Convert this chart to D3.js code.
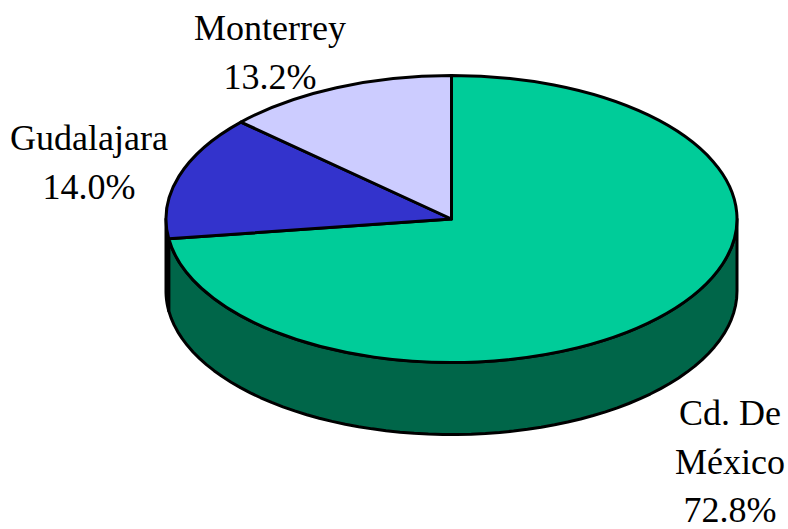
<!DOCTYPE html>
<html><head><meta charset="utf-8">
<script src="https://cdn.jsdelivr.net/npm/d3@7"></script>
<style>html,body{margin:0;padding:0;background:#fff}svg{display:block}text{font-family:"Liberation Serif",serif;font-size:36px;fill:#000;text-anchor:middle}</style>
</head><body><script>
const categories = ["Cd. De México", "Gudalajara", "Monterrey"];
const values = [72.8, 14.0, 13.2];
const topColors = ["#00CC99", "#3333CC", "#CCCCFF"];
const sideColors = ["#006649", "#1A1A66", "#66667F"];
const labelLines = [["Cd. De", "México", "72.8%"], ["Gudalajara", "14.0%"], ["Monterrey", "13.2%"]];
const labelPos = [[730, 425], [89, 150], [270, 40]];

const W = 788, H = 529, cx = 451.5, cy = 219, rx = 285.5, ry = 143.5, depth = 72;
const svg = d3.select("body").append("svg").attr("width", W).attr("height", H);
const pie = d3.pie().sort(null).value(d => d)(values);
const px = a => cx + rx * Math.sin(a), py = a => cy - ry * Math.cos(a);

// side wall: only the part of each slice on the front half of the ellipse
const line = d3.line();
pie.forEach((s, i) => {
  const a0 = Math.max(s.startAngle, Math.PI / 2), a1 = Math.min(s.endAngle, 3 * Math.PI / 2);
  if (a1 <= a0) return;
  const as = d3.range(61).map(k => a0 + (a1 - a0) * k / 60);
  const pts = as.map(a => [px(a), py(a)]).concat(as.slice().reverse().map(a => [px(a), py(a) + depth]));
  svg.append("path").attr("d", line(pts) + "Z").attr("fill", sideColors[i])
    .attr("stroke", "#000").attr("stroke-width", 3).attr("stroke-linejoin", "round");
});

// top face
const arc = d3.arc().innerRadius(0).outerRadius(rx);
svg.append("g").attr("transform", `translate(${cx},${cy}) scale(1,${ry / rx})`)
  .selectAll("path").data(pie).join("path")
  .attr("d", arc).attr("fill", (d, i) => topColors[i])
  .attr("stroke", "#000").attr("stroke-width", 3).attr("stroke-linejoin", "round")
  .attr("vector-effect", "non-scaling-stroke");

// labels
const lineStep = 48.5;
labelLines.forEach((ls, i) => {
  ls.forEach((t, j) => svg.append("text").attr("x", labelPos[i][0]).attr("y", labelPos[i][1] + j * lineStep).text(t));
});
</script></body></html>
